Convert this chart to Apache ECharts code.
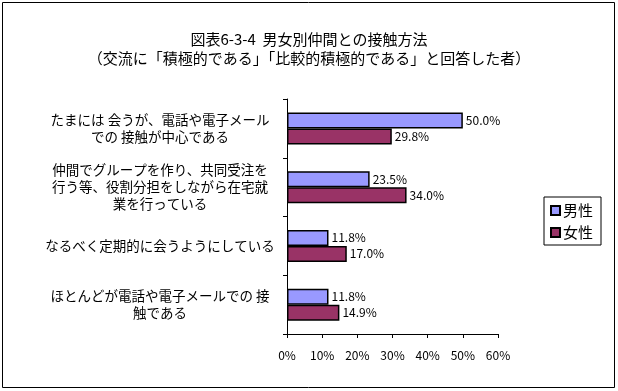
<!DOCTYPE html>
<html><head><meta charset="utf-8">
<script src="https://cdn.jsdelivr.net/npm/echarts@6/dist/echarts.min.js"></script>
<style>html,body{margin:0;padding:0;background:#fff}#c{width:618px;height:391px}</style>
</head><body><div id="c"></div>
<script>
const categories = [
  "たまには 会うが、電話や電子メール\nでの 接触が中心である",
  "仲間でグループを作り、共同受注を\n行う等、役割分担をしながら在宅就\n業を行っている",
  "なるべく定期的に会うようにしている",
  "ほとんどが電話や電子メールでの 接\n触である"
];
const seriesNames = ["男性", "女性"];
const maleValues = [50.0, 23.5, 11.8, 11.8];
const femaleValues = [29.8, 34.0, 17.0, 14.9];
const xTicks = [0, 10, 20, 30, 40, 50, 60];
const titleText = "図表6-3-4  男女別仲間との接触方法";
const subtitleText = "（交流に「積極的である」「比較的積極的である」と回答した者）";

const font = "'Noto Sans CJK JP', sans-serif";
const chart = echarts.init(document.getElementById('c'), null, {renderer: 'canvas'});
const colors = ['#9999FF', '#993366'];
chart.setOption({
  animation: false,
  textStyle: {fontFamily: font, color: '#000'},
  title: {
    text: titleText, subtext: subtitleText, left: 'center', top: 27,
    textStyle: {fontFamily: font, fontSize: 15, fontWeight: 'normal', color: '#000'},
    subtextStyle: {fontFamily: font, fontSize: 15, color: '#000'},
    itemGap: 4
  },
  graphic: [{type: 'rect', shape: {x: 2.5, y: 2.5, width: 612, height: 385}, style: {fill: 'none', stroke: '#000', lineWidth: 1}, silent: true}],
  legend: {
    orient: 'vertical', left: 544, top: 197,
    data: seriesNames,
    itemWidth: 9, itemHeight: 9, itemGap: 7,
    padding: [6, 8, 5, 6],
    borderColor: '#000', borderWidth: 1,
    textStyle: {fontFamily: font, fontSize: 15, color: '#000', padding: [0, 0, 0, -2]},
    icon: 'rect'
  },
  grid: {left: 287, right: 120, top: 99, bottom: 57, containLabel: false},
  xAxis: {
    type: 'value', min: 0, max: 60, interval: 10,
    axisLine: {show: true, lineStyle: {color: '#000', width: 1}},
    axisTick: {show: true, length: 4, lineStyle: {color: '#000'}},
    splitLine: {show: false},
    axisLabel: {formatter: v => v + '%', fontSize: 12, color: '#000', margin: 15, fontFamily: font}
  },
  yAxis: {
    type: 'category', data: categories, inverse: true,
    axisLine: {show: true, lineStyle: {color: '#000', width: 1}},
    axisTick: {show: true, length: 4, lineStyle: {color: '#000'}},
    axisLabel: {align: 'center', margin: 127, fontSize: 13.5, lineHeight: 17, color: '#000', fontFamily: font}
  },
  series: [
    {name: seriesNames[0], type: 'bar', data: maleValues, barWidth: 16, barGap: '0%',
     itemStyle: {color: colors[0], borderColor: '#000', borderWidth: 1.5},
     label: {show: true, position: 'right', distance: 3, formatter: p => p.value.toFixed(1) + '%', fontSize: 12, color: '#000', fontFamily: font}},
    {name: seriesNames[1], type: 'bar', data: femaleValues, barWidth: 16,
     itemStyle: {color: colors[1], borderColor: '#000', borderWidth: 1.5},
     label: {show: true, position: 'right', distance: 3, formatter: p => p.value.toFixed(1) + '%', fontSize: 12, color: '#000', fontFamily: font}}
  ]
});
</script></body></html>
